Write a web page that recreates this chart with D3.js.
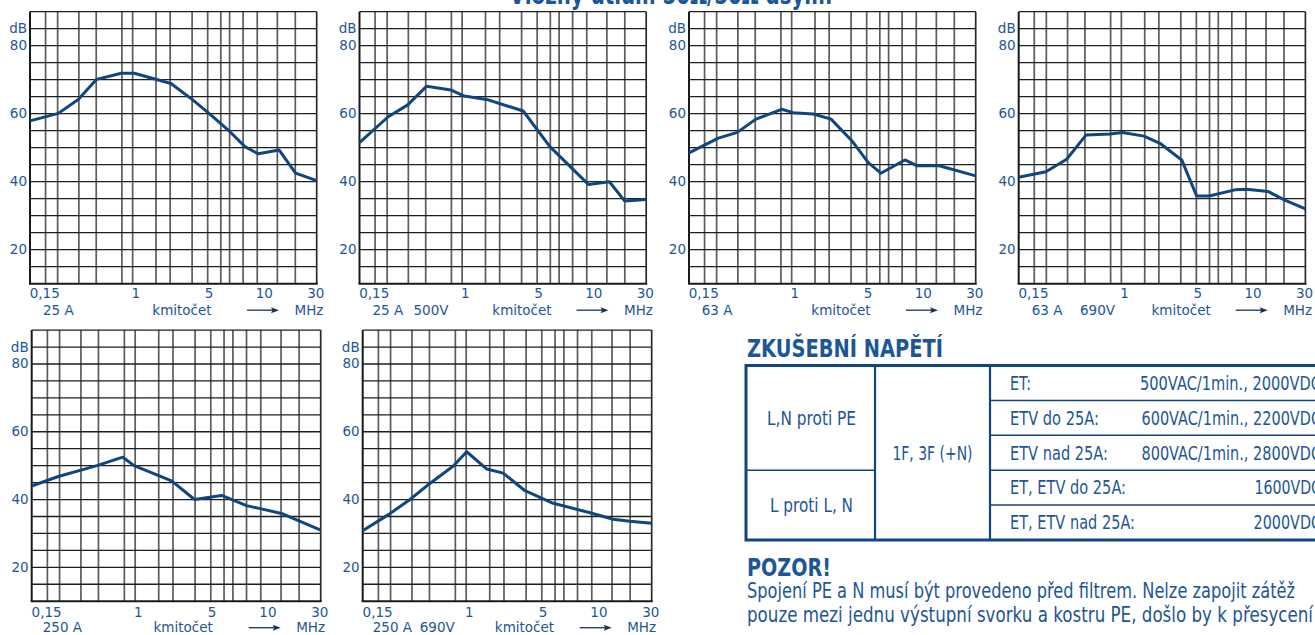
<!DOCTYPE html>
<html>
<head>
<meta charset="utf-8">
<script src="https://cdn.jsdelivr.net/npm/d3@7"></script>
<style>
  body { margin: 0; background: #fff; }
  svg { display: block; }
</style>
</head>
<body>
<script>
// Insertion loss curves (dB) versus frequency (MHz), one series per filter
var freq25A = [0.15, 0.253, 0.366, 0.514, 0.81, 1.03, 2.03, 3.0, 4.1, 6.04, 7.96, 10.2, 15.0, 20.3, 30];
var db25A = [57.9, 60.1, 64.2, 70.1, 71.9, 71.9, 68.9, 64.2, 60.1, 54.7, 50.3, 48.2, 49.3, 42.5, 40.3];

var freq25A500V = [0.15, 0.255, 0.366, 0.519, 0.81, 1.04, 1.57, 3.09, 5.06, 10.3, 15.2, 20.2, 30];
var db25A500V = [51.5, 59.1, 62.6, 68.1, 67.0, 65.2, 64.2, 60.8, 50.3, 39.2, 40.0, 34.3, 34.8];

var freq63A = [0.15, 0.258, 0.366, 0.517, 0.83, 1.03, 1.49, 2.07, 3.08, 4.12, 5.2, 8.1, 10.1, 15.3, 30];
var db63A = [48.5, 52.8, 54.5, 58.4, 61.3, 60.3, 59.9, 58.4, 51.8, 45.6, 42.5, 46.4, 44.7, 44.7, 41.7];

var freq63A690V = [0.15, 0.248, 0.364, 0.52, 0.81, 1.02, 1.52, 2.04, 3.05, 4.02, 5.07, 8.15, 10.1, 15.1, 20.5, 30];
var db63A690V = [41.3, 42.9, 46.6, 53.7, 54.0, 54.5, 53.4, 51.3, 46.4, 35.8, 35.8, 37.6, 37.8, 37.1, 34.6, 32.0];

var freq250A = [0.15, 0.244, 0.496, 0.797, 0.98, 1.95, 2.97, 4.88, 7.7, 9.7, 14.6, 30];
var db250A = [44.0, 46.8, 50.0, 52.5, 50.0, 45.5, 40.0, 41.2, 38.2, 37.4, 35.9, 31.0];

var freq250A690V = [0.15, 0.244, 0.357, 0.508, 0.79, 1.01, 1.46, 1.97, 2.94, 4.93, 9.7, 14.8, 20.1, 30];
var db250A690V = [30.8, 35.7, 40.0, 44.6, 49.9, 54.1, 49.0, 47.8, 42.6, 38.9, 36.1, 34.2, 33.6, 33.0];

// Axis data
var freqDomain = [0.15, 30];
var dbDomain = [10, 90];
var gridFreqs = [0.2, 0.25, 0.37, 0.51, 0.82, 1, 1.54, 2, 3, 4, 5.1, 6, 7.7, 10, 14.5, 20.2];
var gridDb = [15, 20, 25, 30, 35, 40, 45, 50, 55, 60, 65, 70, 75, 80, 85];
var dbLabels = [20, 40, 60, 80];
var freqLabels = ["0,15", "1", "5", "10", "30"];
var freqLabelAt = [0.197, 1.06, 4.1, 11.4, 29.5];

// Panel captions
var captions = [["25 A"], ["25 A", "500V"], ["63 A"], ["63 A", "690V"], ["250 A"], ["250 A", "690V"]];
var seriesFreq = [freq25A, freq25A500V, freq63A, freq63A690V, freq250A, freq250A690V];
var seriesDb = [db25A, db25A500V, db63A, db63A690V, db250A, db250A690V];

// Table content
var tableLeft = ["L,N proti PE", "L proti L, N"];
var tableMiddle = "1F, 3F (+N)";
var tableRowLabels = ["ET:", "ETV do 25A:", "ETV nad 25A:", "ET, ETV do 25A:", "ET, ETV nad 25A:"];
var tableRowValues = ["500VAC/1min., 2000VDC", "600VAC/1min., 2200VDC", "800VAC/1min., 2800VDC", "1600VDC", "2000VDC"];
var noteLines = [
    "Spojení PE a N musí být provedeno před filtrem. Nelze zapojit zátěž",
    "pouze mezi jednu výstupní svorku a kostru PE, došlo by k přesycení"
];

// Layout of the six panels (page pixels)
var panels = [
    { left: 30, top: 11.7, width: 286.7, height: 272, captionX: [13], kmitX: 152, tickGap: 14.5, capGap: 31 },
    { left: 359.5, top: 11.7, width: 286.7, height: 272, captionX: [13, 54], kmitX: 162.5, tickGap: 14.5, capGap: 31 },
    { left: 689, top: 11.7, width: 286.7, height: 272, captionX: [12.7], kmitX: 152, tickGap: 14.5, capGap: 31 },
    { left: 1018.7, top: 11.7, width: 286.7, height: 272, captionX: [13, 61.3], kmitX: 162.5, tickGap: 14.5, capGap: 31 },
    { left: 31.7, top: 330.1, width: 289, height: 271.1, captionX: [11], kmitX: 151.5, tickGap: 15.5, capGap: 31 },
    { left: 362.7, top: 330.1, width: 289, height: 271.1, captionX: [10, 57], kmitX: 161.8, tickGap: 15.5, capGap: 31 }
];

// text widths of the condensed print face (page pixels)
var labelWidths = [21, 89, 98, 116, 125];
var valueWidths = [181, 179.5, 179.5, 66.5, 67.5];
var noteWidths = [548, 566];

var textBlue = "#1d5696";
var lineBlue = "#0f467f";
var face = "'DejaVu Sans', sans-serif";

var svg = d3.select("body").append("svg")
    .attr("width", 1315)
    .attr("height", 635);

// Page title (only its lower part is visible at the top edge)
svg.append("text")
    .attr("x", 671)
    .attr("y", 4)
    .attr("text-anchor", "middle")
    .attr("font-family", face)
    .attr("font-weight", "bold")
    .attr("font-size", "26px")
    .attr("fill", textBlue)
    .attr("textLength", 323)
    .attr("lengthAdjust", "spacingAndGlyphs")
    .text("Vložný útlum 50Ω/50Ω dsym.");

panels.forEach(function (p, i) {
    drawPanel(p, captions[i], seriesFreq[i], seriesDb[i]);
});

drawTable();

// A function to draw one attenuation chart
function drawPanel(p, caption, freqs, dbs) {
    var g = svg.append("g")
        .attr("transform", "translate(" + p.left + "," + p.top + ")");

    var x = d3.scaleLog().domain(freqDomain).range([0, p.width]);
    var y = d3.scaleLinear().domain(dbDomain).range([p.height, 0]);

    // vertical grid
    g.selectAll(".vgrid")
        .data(gridFreqs)
        .enter().append("line")
        .attr("x1", function (d) { return x(d); })
        .attr("x2", function (d) { return x(d); })
        .attr("y1", 0)
        .attr("y2", p.height)
        .attr("stroke", "#5c5c5c")
        .attr("stroke-width", 1.7);

    // horizontal grid
    g.selectAll(".hgrid")
        .data(gridDb)
        .enter().append("line")
        .attr("x1", 0)
        .attr("x2", p.width)
        .attr("y1", function (d) { return y(d); })
        .attr("y2", function (d) { return y(d); })
        .attr("stroke", "#1e1e1e")
        .attr("stroke-width", 1.3);

    // frame
    g.append("line").attr("x1", 0).attr("x2", p.width).attr("y1", 0).attr("y2", 0)
        .attr("stroke", "#1e1e1e").attr("stroke-width", 1.3);
    g.append("line").attr("x1", p.width).attr("x2", p.width).attr("y1", 0).attr("y2", p.height)
        .attr("stroke", "#2a2a2a").attr("stroke-width", 1.7);
    g.append("line").attr("x1", 0).attr("x2", 0).attr("y1", 0).attr("y2", p.height)
        .attr("stroke", "#1a1a1a").attr("stroke-width", 2);
    g.append("line").attr("x1", -1).attr("x2", p.width + 1).attr("y1", p.height).attr("y2", p.height)
        .attr("stroke", "#1a1a1a").attr("stroke-width", 2);

    // y labels
    g.selectAll(".ylab")
        .data(dbLabels)
        .enter().append("text")
        .attr("x", -3)
        .attr("y", function (d) { return y(d); })
        .attr("dy", "0.33em")
        .attr("text-anchor", "end")
        .attr("font-family", face)
        .attr("font-size", "13.5px")
        .attr("fill", textBlue)
        .text(function (d) { return d; });

    g.append("text")
        .attr("x", -3)
        .attr("y", y(85) + 4.6)
        .attr("text-anchor", "end")
        .attr("font-family", face)
        .attr("font-size", "13.5px")
        .attr("fill", textBlue)
        .text("dB");

    // x labels
    g.selectAll(".xlab")
        .data(freqLabels)
        .enter().append("text")
        .attr("x", function (d, i) { return x(freqLabelAt[i]); })
        .attr("y", p.height + p.tickGap)
        .attr("text-anchor", "middle")
        .attr("font-family", face)
        .attr("font-size", "13.5px")
        .attr("fill", textBlue)
        .text(function (d) { return d; });

    // caption row
    var capY = p.height + p.capGap;
    caption.forEach(function (c, k) {
        g.append("text")
            .attr("x", p.captionX[k])
            .attr("y", capY)
            .attr("font-family", face)
            .attr("font-size", "13.5px")
            .attr("fill", textBlue)
            .text(c);
    });

    g.append("text")
        .attr("x", p.kmitX)
        .attr("y", capY)
        .attr("text-anchor", "middle")
        .attr("font-family", face)
        .attr("font-size", "13.5px")
        .attr("fill", textBlue)
        .text("kmitočet");

    // arrow
    var ay = capY - 4.5;
    g.append("line")
        .attr("x1", 217).attr("x2", 243)
        .attr("y1", ay).attr("y2", ay)
        .attr("stroke", "#1b3157")
        .attr("stroke-width", 1.3);
    g.append("path")
        .attr("d", "M249," + ay + "L241," + (ay - 3) + "L242.5," + ay + "L241," + (ay + 3) + "Z")
        .attr("fill", "#1b3157");

    g.append("text")
        .attr("x", 264.5)
        .attr("y", capY)
        .attr("font-family", face)
        .attr("font-size", "13.5px")
        .attr("fill", textBlue)
        .text("MHz");

    // the curve
    var line = d3.line()
        .x(function (d) { return x(d[0]); })
        .y(function (d) { return y(d[1]); });

    g.append("path")
        .datum(d3.zip(freqs, dbs))
        .attr("fill", "none")
        .attr("stroke", lineBlue)
        .attr("stroke-width", 3)
        .attr("stroke-linejoin", "round")
        .attr("d", line);
}

// A function to draw the test voltage table and the note
function drawTable() {
    var left = 746, top = 365.5, bottom = 540, right = 1330;
    var col1 = 875, col2 = 990;
    var rows = d3.scaleBand().domain(d3.range(tableRowLabels.length)).range([top, bottom]);
    var rh = rows.bandwidth();

    svg.append("text")
        .attr("x", 747)
        .attr("y", 356.5)
        .attr("font-family", face)
        .attr("font-weight", "bold")
        .attr("font-size", "24px")
        .attr("fill", textBlue)
        .attr("textLength", 196)
        .attr("lengthAdjust", "spacingAndGlyphs")
        .text("ZKUŠEBNÍ NAPĚTÍ");

    var t = svg.append("g");

    // inner row lines of the right column
    t.selectAll(".rline")
        .data(d3.range(1, tableRowLabels.length))
        .enter().append("line")
        .attr("x1", col2).attr("x2", right)
        .attr("y1", function (d) { return rows(d); })
        .attr("y2", function (d) { return rows(d); })
        .attr("stroke", lineBlue)
        .attr("stroke-width", 1.5);

    // split of the left column
    t.append("line")
        .attr("x1", left).attr("x2", col1)
        .attr("y1", rows(3)).attr("y2", rows(3))
        .attr("stroke", lineBlue).attr("stroke-width", 1.5);

    [col1, col2].forEach(function (cx) {
        t.append("line")
            .attr("x1", cx).attr("x2", cx)
            .attr("y1", top).attr("y2", bottom)
            .attr("stroke", lineBlue).attr("stroke-width", 2.2);
    });

    t.append("rect")
        .attr("x", left).attr("y", top)
        .attr("width", right - left).attr("height", bottom - top)
        .attr("fill", "none")
        .attr("stroke", lineBlue)
        .attr("stroke-width", 3);

    var cell = function (txt, w) {
        return t.append("text")
            .attr("font-family", face)
            .attr("font-size", "19px")
            .attr("fill", textBlue)
            .attr("dy", "0.36em")
            .attr("textLength", w)
            .attr("lengthAdjust", "spacingAndGlyphs")
            .text(txt);
    };

    cell(tableLeft[0], 89)
        .attr("x", (left + col1) / 2 + 1).attr("y", (top + rows(3)) / 2)
        .attr("text-anchor", "middle");
    cell(tableLeft[1], 83)
        .attr("x", (left + col1) / 2 + 1).attr("y", (rows(3) + bottom) / 2)
        .attr("text-anchor", "middle");
    cell(tableMiddle, 80)
        .attr("x", (col1 + col2) / 2).attr("y", (top + bottom) / 2)
        .attr("text-anchor", "middle");

    tableRowLabels.forEach(function (lab, i) {
        cell(lab, labelWidths[i])
            .attr("x", 1010).attr("y", rows(i) + rh / 2);
        cell(tableRowValues[i], valueWidths[i])
            .attr("x", 1321).attr("y", rows(i) + rh / 2)
            .attr("text-anchor", "end");
    });

    svg.append("text")
        .attr("x", 747)
        .attr("y", 576)
        .attr("font-family", face)
        .attr("font-weight", "bold")
        .attr("font-size", "25px")
        .attr("fill", textBlue)
        .attr("textLength", 84)
        .attr("lengthAdjust", "spacingAndGlyphs")
        .text("POZOR!");

    svg.selectAll(".note")
        .data(noteLines)
        .enter().append("text")
        .attr("x", 747)
        .attr("y", function (d, i) { return 598 + i * 23.5; })
        .attr("font-family", face)
        .attr("font-size", "21px")
        .attr("fill", textBlue)
        .attr("textLength", function (d, i) { return noteWidths[i]; })
        .attr("lengthAdjust", "spacingAndGlyphs")
        .text(function (d) { return d; });
}
</script>
</body>
</html>
